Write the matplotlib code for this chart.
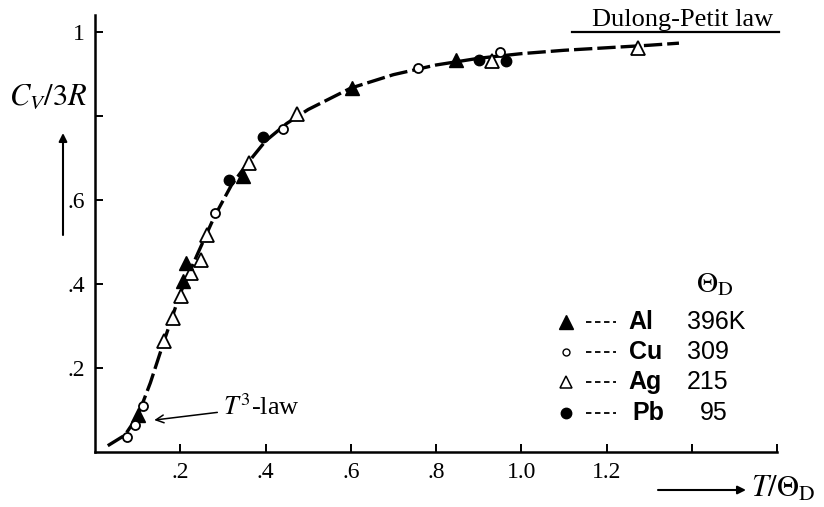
import matplotlib
matplotlib.use("Agg")
import matplotlib.pyplot as plt
from matplotlib.lines import Line2D

plt.rcParams['mathtext.fontset'] = 'stix'
plt.rcParams['font.family'] = ['Liberation Serif', 'DejaVu Serif']

# ---- data ----
curve_x = [0.03, 0.07, 0.10, 0.13, 0.16, 0.20, 0.24, 0.28, 0.32, 0.36, 0.40,
           0.45, 0.50, 0.60, 0.70, 0.80, 0.90, 1.00, 1.10, 1.20, 1.30, 1.37]
curve_y = [0.015, 0.040, 0.085, 0.165, 0.258, 0.378, 0.470, 0.560, 0.635, 0.690, 0.740,
           0.782, 0.815, 0.866, 0.898, 0.921, 0.937, 0.948, 0.956, 0.962, 0.968, 0.973]

al_x = [0.101, 0.206, 0.214, 0.347, 0.604, 0.848]
al_y = [0.088, 0.407, 0.450, 0.657, 0.866, 0.933]
cu_x = [0.074, 0.094, 0.113, 0.281, 0.441, 0.757, 0.951]
cu_y = [0.036, 0.064, 0.110, 0.569, 0.768, 0.914, 0.952]
ag_x = [0.163, 0.182, 0.202, 0.225, 0.249, 0.263, 0.361, 0.475, 0.931, 1.273]
ag_y = [0.263, 0.320, 0.372, 0.426, 0.458, 0.517, 0.688, 0.805, 0.931, 0.962]
pb_x = [0.314, 0.394, 0.900, 0.965]
pb_y = [0.648, 0.750, 0.933, 0.931]

metals = ['Al', 'Cu', 'Ag', 'Pb']
theta_d = ['396K', '309', '215', '95']

x_ticks = [0.2, 0.4, 0.6, 0.8, 1.0, 1.2, 1.4, 1.6]
x_ticklabels = ['.2', '.4', '.6', '.8', '1.0', '1.2', '', '']
y_ticks = [0.2, 0.4, 0.6, 0.8, 1.0]
y_ticklabels = ['.2', '.4', '.6', '', '1']

W, H = 824, 507
fig = plt.figure(figsize=(W / 100, H / 100), dpi=100)
ax = fig.add_axes([95 / W, 55 / H, 682 / W, 437 / H])
ax.set_xlim(0, 1.6)
ax.set_ylim(0, 1.04)

for s in ['top', 'right']:
    ax.spines[s].set_visible(False)
for s in ['left', 'bottom']:
    ax.spines[s].set_linewidth(1.8)

ax.set_xticks(x_ticks)
ax.set_xticklabels(x_ticklabels)
ax.set_yticks(y_ticks)
ax.set_yticklabels(y_ticklabels)
ax.tick_params(direction='in', length=6, width=1.4, labelsize=17, pad=7)

# Debye curve (dashed)
ax.plot(curve_x, curve_y, color='black', lw=2.4, dashes=(5.5, 1.5),
        dash_capstyle='butt', zorder=2, clip_on=False)

# data points
ax.plot(al_x, al_y, ls='none', marker='^', ms=9.5, mfc='black', mec='black', zorder=4)
ax.plot(cu_x, cu_y, ls='none', marker='o', ms=6.5, mfc='white', mec='black', mew=1.3, zorder=4)
ax.plot(ag_x, ag_y, ls='none', marker='^', ms=9.5, mfc='white', mec='black', mew=1.3, zorder=3)
ax.plot(pb_x, pb_y, ls='none', marker='o', ms=7.5, mfc='black', mec='black', zorder=4)

# Dulong-Petit law
ax.plot([1.12, 1.605], [1.0, 1.0], color='black', lw=1.6, clip_on=False)
ax.text(1.378, 1.014, 'Dulong-Petit law', ha='center', va='baseline', fontsize=19)

# T^3-law annotation
ax.annotate('$T^3$-law', xy=(0.139, 0.076), xytext=(0.30, 0.107),
            fontsize=19, va='center', ha='left',
            arrowprops=dict(arrowstyle='->', lw=1.1, color='black',
                            shrinkA=2, shrinkB=0, mutation_scale=14))

# legend-like table
ax.text(1.455, 0.398, r'$\Theta_{\mathrm{D}}$', fontsize=21, ha='center', va='center')
rows_y = [0.310, 0.238, 0.167, 0.093]
mk = [dict(marker='^', ms=10.5, mfc='black', mec='black'),
      dict(marker='o', ms=5, mfc='white', mec='black', mew=1.0),
      dict(marker='^', ms=9, mfc='white', mec='black', mew=1.1),
      dict(marker='o', ms=7.5, mfc='black', mec='black')]
name_dx = [0.0, 0.0, 0.0, 0.008]
num_dx = [0.0, 0.0, 0.0, 0.030]
for i, (name, td, yy) in enumerate(zip(metals, theta_d, rows_y)):
    ax.plot([1.106], [yy], ls='none', clip_on=False, **mk[i])
    ax.add_line(Line2D([1.153, 1.223], [yy, yy], color='black', lw=1.3,
                       dashes=(3.0, 2.0), dash_capstyle='butt'))
    ax.text(1.252 + name_dx[i], yy, name, fontsize=18,
            fontweight='bold', family='Liberation Sans', ha='left', va='center')
    ax.text(1.388 + num_dx[i], yy, td, fontsize=18, family='Liberation Sans',
            ha='left', va='center')

# axis labels with arrows (figure pixel coords -> fraction)
def fp(px, py):
    return (px / W, 1 - py / H)

fig.text(*fp(48, 97), r'$C_V/3R$', fontsize=22, ha='center', va='center')
ax.annotate('', xy=fp(63, 133), xytext=fp(63, 235), xycoords='figure fraction',
            textcoords='figure fraction',
            arrowprops=dict(arrowstyle='-|>', lw=1.5, color='black',
                            mutation_scale=12, shrinkA=0, shrinkB=0))
fig.text(*fp(783, 489), r'$T/\Theta_{\mathrm{D}}$', fontsize=22, ha='center', va='center')
ax.annotate('', xy=fp(746, 490), xytext=fp(658, 490), xycoords='figure fraction',
            textcoords='figure fraction',
            arrowprops=dict(arrowstyle='-|>', lw=1.5, color='black',
                            mutation_scale=12, shrinkA=0, shrinkB=0))

fig.savefig('out.png', dpi=100)
